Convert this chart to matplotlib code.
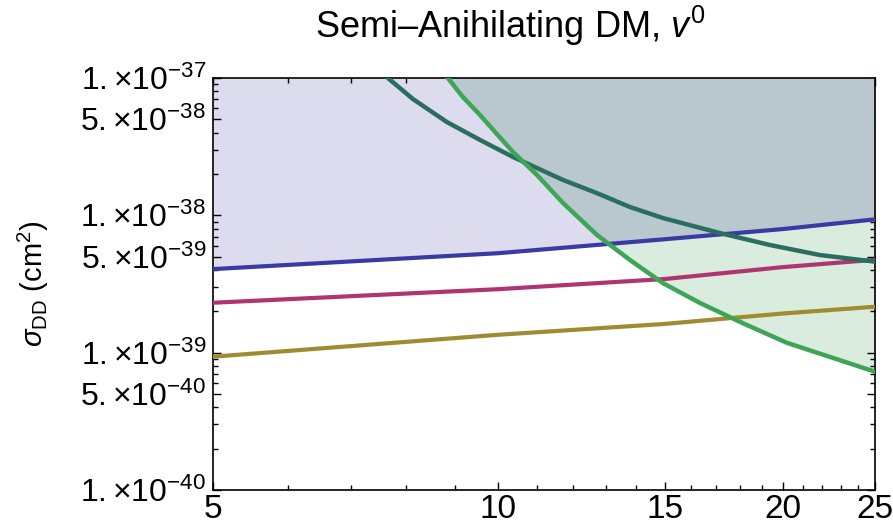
import matplotlib
matplotlib.use('Agg')
import matplotlib.pyplot as plt
from matplotlib.ticker import LogLocator, FuncFormatter, NullFormatter
import numpy as np

plt.rcParams['font.family'] = ['Liberation Sans', 'DejaVu Sans']
plt.rcParams['mathtext.fontset'] = 'custom'
plt.rcParams['mathtext.rm'] = 'Liberation Sans'
plt.rcParams['mathtext.it'] = 'Liberation Sans:italic'
plt.rcParams['mathtext.bf'] = 'Liberation Sans:bold'

# mass grid for the three flat-ish curves
mass = [5, 10, 15, 20, 25]
blue_y = [4.06e-39, 5.3e-39, 6.7e-39, 7.95e-39, 9.35e-39]
magenta_y = [2.31e-39, 2.9e-39, 3.44e-39, 4.2e-39, 4.75e-39]
olive_y = [9.35e-40, 1.35e-39, 1.62e-39, 1.93e-39, 2.16e-39]

# dark teal curve
teal_x = [7.65, 8.13, 8.83, 9.57, 10.37, 11.71, 12.72, 13.78, 14.93,
          17.15, 19.37, 21.87, 25]
teal_y = [1.0e-37, 7.03e-38, 4.78e-38, 3.54e-38, 2.66e-38, 1.81e-38,
          1.45e-38, 1.15e-38, 9.56e-39, 7.43e-39, 6.08e-39, 5.14e-39, 4.6e-39]

# green curve
green_x = [8.85, 9.18, 9.57, 9.97, 10.37, 10.99, 11.71, 12.72, 13.78,
           14.93, 16.34, 18.13, 20.18, 25]
green_y = [1.0e-37, 7.27e-38, 5.38e-38, 3.91e-38, 2.89e-38, 1.97e-38,
           1.23e-38, 7.19e-39, 4.73e-39, 3.21e-39, 2.30e-39, 1.64e-39,
           1.18e-39, 7.27e-40]

xticks = [5, 10, 15, 20, 25]
xminor = [6, 7, 8, 9, 11, 12, 13, 14, 16, 17, 18, 19, 21, 22, 23, 24]
ymin, ymax = 1e-40, 1e-37

fig = plt.figure(figsize=(8.93, 5.26), dpi=100)
ax = fig.add_axes([0.2385, 0.0684, 0.7413, 0.7833])
ax.set_xscale('log')
ax.set_yscale('log')

# shaded regions
lav = ax.fill_between(mass, blue_y, ymax, color='#dcdcee', lw=0, zorder=1)
ax.fill_between(green_x, green_y, ymax, color='#d9ecdd', lw=0, zorder=1)
over = ax.fill_between(green_x, green_y, ymax, color='#b9c8ce', lw=0, zorder=2)
over.set_clip_path(lav.get_paths()[0], transform=ax.transData)

ax.plot(mass, olive_y, color='#a08c30', lw=3, zorder=3)
ax.plot(mass, magenta_y, color='#b03470', lw=3, zorder=3)
ax.plot(mass, blue_y, color='#3a3aa6', lw=3, zorder=3)
ax.plot(teal_x, teal_y, color='#2a6e60', lw=3.2, zorder=4)
ax.plot(green_x, green_y, color='#3ea556', lw=3.2, zorder=4)

ax.set_xlim(5, 25)
ax.set_ylim(ymin, ymax)

ax.set_xticks(xticks)
ax.set_xticklabels([str(t) for t in xticks], fontsize=24)
ax.set_xticks(xminor, minor=True)
ax.xaxis.set_minor_formatter(NullFormatter())


def yfmt(v, pos):
    e = int(np.floor(np.log10(v) + 1e-9))
    m = v / 10 ** e
    return r'$%d.{\times}10^{%d}$' % (round(m), e)


ax.yaxis.set_major_locator(LogLocator(base=10, subs=(1.0, 5.0)))
ax.yaxis.set_minor_locator(LogLocator(base=10, subs=(2, 3, 4, 6, 7, 8, 9)))
ax.yaxis.set_major_formatter(FuncFormatter(yfmt))
ax.yaxis.set_minor_formatter(NullFormatter())
ax.tick_params(axis='y', labelsize=23, pad=5)

ax.tick_params(which='both', direction='in', top=True, right=True, width=1)
ax.tick_params(which='major', length=6)
ax.tick_params(which='minor', length=3.5)
ax.tick_params(axis='x', pad=3)

for s in ax.spines.values():
    s.set_linewidth(1.2)

ax.set_ylabel(r'$\sigma_{\mathrm{DD}}$ (cm$^2$)', fontsize=21)
ax.yaxis.set_label_coords(-0.245, 0.5)
fig.text(0.571, 0.928, 'Semi\u2013Anihilating DM, $v^0$', fontsize=26,
         ha='center', va='baseline')

fig.savefig('out.png', dpi=100)
